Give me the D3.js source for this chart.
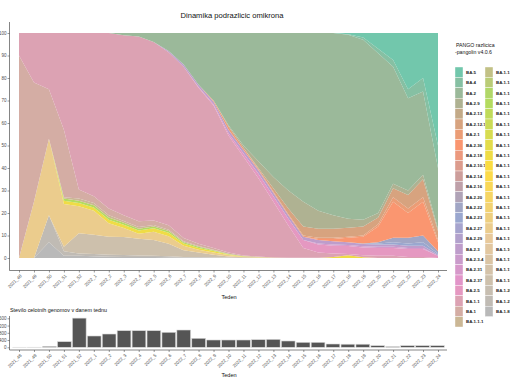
<!DOCTYPE html>
<html>
<head>
<meta charset="utf-8">
<script src="https://cdn.jsdelivr.net/npm/d3@7"></script>
<style>
  body { margin: 0; background: #fff; }
  text { font-family: "Liberation Sans", Arial, sans-serif; }
</style>
</head>
<body>
<svg id="chart" width="510" height="382"></svg>
<script>
(function () {

    // ---- data ----
    var weeks = ["2021_48", "2021_49", "2021_50", "2021_51", "2021_52",
                 "2022_1", "2022_2", "2022_3", "2022_4", "2022_5", "2022_6",
                 "2022_7", "2022_8", "2022_9", "2022_10", "2022_11", "2022_12",
                 "2022_13", "2022_14", "2022_15", "2022_16", "2022_17", "2022_18",
                 "2022_19", "2022_20", "2022_21", "2022_22", "2022_23", "2022_24"];

    var legendLeft = ["BA.5", "BA.4", "BA.2", "BA.2.9", "BA.2.13", "BA.2.12.1", "BA.2.1",
                      "BA.2.36", "BA.2.18", "BA.2.10.1", "BA.2.14", "BA.2.16", "BA.2.20",
                      "BA.2.22", "BA.2.23", "BA.2.27", "BA.2.29", "BA.2.3", "BA.2.3.4",
                      "BA.2.31", "BA.2.37", "BA.2.5", "BA.1.1", "BA.1", "BA.1.1.1"];

    var legendRight = ["BA.1.1.2", "BA.1.1.3", "BA.1.1.4", "BA.1.1.5", "BA.1.1.6", "BA.1.1.7",
                       "BA.1.1.8", "BA.1.1.9", "BA.1.1.10", "BA.1.1.11", "BA.1.1.14", "BA.1.1.16",
                       "BA.1.1.18", "BA.1.13", "BA.1.14", "BA.1.15", "BA.1.15.1", "BA.1.16",
                       "BA.1.17", "BA.1.17.2", "BA.1.18", "BA.1.20", "BA.1.21", "BA.1.8"];

    // whole genomes sequenced per week
    var genomes = [2, 3, 50, 310, 1610, 624, 733, 916, 916, 916, 828, 954, 497, 403, 403,
                   403, 420, 440, 348, 275, 275, 182, 170, 170, 90, 35, 90, 90, 90];

    // share of each lineage per week (%)
    var ba5 = [0, 0, 0, 0, 0,  0, 0, 0, 0, 0,  0, 0, 0, 0, 0,  0, 0, 0, 0, 0,  0, 0, 0.5, 2, 7,  12, 25, 20, 50];
    var ba4 = [0, 0, 0, 0, 0,  0, 0, 0, 0, 0,  0, 0, 0, 0, 0,  0, 0, 0, 0, 0,  0, 0, 0.3, 1, 2,  3, 4, 6, 10];
    var ba2 = [0, 0, 0, 0, 0,  0, 0, 1, 1.6, 4,  8, 14, 23, 30, 41,  50, 57, 64, 70, 75,  79, 81, 81.7, 80, 71,  52, 41, 37, 27];
    var ba2_9 = [0, 0, 0, 0, 0,  0, 0, 0, 0, 0,  0, 0, 0, 0, 0.5,  1, 3, 5, 8, 11,  8, 6, 4, 3, 2,  2, 2, 2, 1];
    var ba2_12_1 = [0, 0, 0, 0, 0,  0, 0, 0, 0, 0,  0, 0, 0, 0, 0,  0, 0.5, 1.5, 2.5, 4,  4, 4, 4, 4, 3,  4, 6, 8, 4];
    var ba2_1 = [0, 0, 0, 0, 0,  0, 0, 0, 0, 0,  0, 0, 0, 0.5, 1.5,  1, 0.5, 0.5, 0.5, 0.5,  0.5, 0.5, 0.5, 0.5, 1,  2, 2, 2, 1];
    var ba2_36 = [0, 0, 0, 0, 0,  0, 0, 0, 0, 0,  0, 0, 0, 0, 0,  0, 0, 0, 0, 0,  0.5, 1, 2, 3, 7,  16, 11, 15, 4];
    var ba2_22 = [0, 0, 0, 0, 0,  0, 0, 0, 0, 0,  0, 0, 0, 0, 0,  0, 0, 0, 0, 0,  0, 0, 0, 0, 0.5,  2, 2.5, 3, 1];
    var ba2_23 = [0, 0, 0, 0, 0,  0, 0, 0, 0, 0,  0, 0, 0, 0, 0,  0, 0, 0, 0, 0,  0, 0, 0, 0.3, 0.5,  1, 1, 1.5, 0.5];
    var ba2_3 = [0, 0, 0, 0, 0,  0, 0, 0, 0, 0,  0.5, 1, 1, 1.2, 1.5,  1.5, 1.5, 1.5, 1.5, 1.5,  1.5, 1.5, 1.2, 1, 1,  1, 1, 1, 0.5];
    var ba2_31 = [0, 0, 0, 0, 0,  0, 0, 0, 0, 0,  0, 0, 0, 0, 0,  0, 0, 0, 0, 0,  0.5, 0.5, 0.5, 0.5, 0.5,  0.5, 0.5, 0.5, 0];
    var ba2_5 = [0, 0, 0, 0, 0,  0, 0, 0, 0, 0,  0, 0, 0.3, 0.5, 1,  1.5, 2, 2.5, 3, 3.5,  3.5, 3.5, 3.5, 3.5, 3.5,  3.5, 3.5, 3.5, 1];
    var ba1_1 = [10, 22, 25, 43, 69.5,  72.5, 78, 80, 82.1, 79.3,  76.9, 76.1, 69.4, 63.3, 52.1,  43.9, 34.8, 24.8, 14.4, 4.4,  2.4, 1.5, 0.6, 0.9, 1,  1, 0.5, 0.5, 0];
    var ba1 = [90, 53, 22, 30, 4,  3, 3, 2.5, 2.5, 2,  2, 1.5, 1, 0.8, 0.5,  0.3, 0.2, 0.1, 0.1, 0.1,  0.1, 0, 0, 0, 0,  0, 0, 0, 0];
    var ba1_1_1 = [0, 0, 0, 0.5, 1,  1, 1, 0.8, 0.8, 0.7,  0.6, 0.4, 0.3, 0.2, 0.1,  0, 0, 0, 0, 0,  0, 0, 0, 0, 0,  0, 0, 0, 0];
    var ba1_1_5 = [0, 0, 0, 1, 1,  1, 1, 0.9, 0.8, 0.8,  0.8, 0.6, 0.5, 0.4, 0.2,  0.1, 0.1, 0, 0, 0,  0, 0, 0, 0, 0,  0, 0, 0, 0];
    var ba1_1_10 = [0, 0, 0, 1.5, 1.5,  1.5, 1.5, 1.5, 1.4, 1.5,  1.5, 1, 0.8, 0.6, 0.3,  0.2, 0.1, 0.1, 0, 0,  0, 0.5, 1.2, 0.3, 0,  0, 0, 0, 0];
    var ba1_15 = [0, 25, 34, 19, 12,  10.7, 6.1, 4, 2.2, 3.7,  3.4, 1.9, 1.3, 1, 0.6,  0.2, 0.1, 0, 0, 0,  0, 0, 0, 0, 0,  0, 0, 0, 0];
    var ba1_18 = [0, 0, 0, 2, 9,  8.5, 8, 8, 7.5, 7,  5.5, 3, 2, 1.2, 0.5,  0.3, 0.2, 0, 0, 0,  0, 0, 0, 0, 0,  0, 0, 0, 0];
    var ba1_21 = [0, 0, 12, 2, 1,  1, 0.8, 0.8, 0.6, 0.6,  0.5, 0.3, 0.2, 0.2, 0.1,  0, 0, 0, 0, 0,  0, 0, 0, 0, 0,  0, 0, 0, 0];
    var ba1_8 = [0, 0, 7, 1, 1,  0.8, 0.6, 0.5, 0.5, 0.4,  0.3, 0.2, 0.2, 0.1, 0.1,  0, 0, 0, 0, 0,  0, 0, 0, 0, 0,  0, 0, 0, 0];

    var shares = {
        "BA.5": ba5, "BA.4": ba4, "BA.2": ba2, "BA.2.9": ba2_9, "BA.2.12.1": ba2_12_1,
        "BA.2.1": ba2_1, "BA.2.36": ba2_36, "BA.2.22": ba2_22, "BA.2.23": ba2_23,
        "BA.2.3": ba2_3, "BA.2.31": ba2_31, "BA.2.5": ba2_5, "BA.1.1": ba1_1, "BA.1": ba1,
        "BA.1.1.1": ba1_1_1, "BA.1.1.5": ba1_1_5, "BA.1.1.10": ba1_1_10, "BA.1.15": ba1_15,
        "BA.1.18": ba1_18, "BA.1.21": ba1_21, "BA.1.8": ba1_8
    };

    // ---- setup ----
    var svg = d3.select("#chart"),
        lineages = legendLeft.concat(legendRight),
        zeros = weeks.map(function () { return 0; }),
        axisColor = "#333",
        labelColor = "#4d4d4d";

    var set2 = d3.piecewise(d3.interpolateRgb,
        ["#66c2a5", "#fc8d62", "#8da0cb", "#e78ac3", "#a6d854", "#ffd92f", "#e5c494", "#b3b3b3"]);
    var color = d3.scaleOrdinal()
        .domain(lineages)
        .range(lineages.map(function (d, i) {
            return d3.interpolateRgb(set2(i / (lineages.length - 1)), "#fff")(0.08);
        }));

    var rows = weeks.map(function (w, i) {
        var r = { week: w };
        lineages.forEach(function (k) { r[k] = (shares[k] || zeros)[i]; });
        return r;
    });

    var series = d3.stack()
        .keys(lineages.slice().reverse())
        .offset(d3.stackOffsetExpand)(rows);

    var x = d3.scalePoint().domain(weeks).range([19, 438]),
        y = d3.scaleLinear().domain([0, 1]).range([258, 33]),
        yPct = d3.scaleLinear().domain([0, 100]).range([258, 33]);

    // ---- title ----
    svg.append("text")
        .attr("x", 232).attr("y", 18)
        .attr("text-anchor", "middle")
        .style("font-size", "7.6px").style("fill", "#111")
        .text("Dinamika podrazlicic omikrona");

    // ---- stacked areas ----
    var area = d3.area()
        .x(function (d) { return x(d.data.week); })
        .y0(function (d) { return y(d[0]); })
        .y1(function (d) { return y(d[1]); });

    svg.append("g")
        .selectAll("path")
        .data(series)
        .join("path")
            .attr("fill", function (d) { return color(d.key); })
            .attr("d", area);

    // ---- main axes ----
    var yAxis = svg.append("g")
        .attr("transform", "translate(9.5,0)")
        .call(d3.axisLeft(yPct).tickValues(d3.range(0, 101, 10)).tickSize(2).tickPadding(1));
    var xAxis = svg.append("g")
        .attr("transform", "translate(0,270.5)")
        .call(d3.axisBottom(x).tickSize(2).tickPadding(1));

    [yAxis, xAxis].forEach(function (g) {
        g.select(".domain").remove();
        g.selectAll("line").attr("stroke", axisColor).attr("stroke-width", 0.5);
        g.selectAll("text").style("font-size", "4.5px").attr("fill", labelColor);
    });
    xAxis.selectAll("text")
        .attr("text-anchor", "end")
        .attr("x", 0).attr("y", 0).attr("dy", "0.35em")
        .attr("transform", "translate(1.5,4.5) rotate(-45)");

    svg.append("line")
        .attr("x1", 9.5).attr("x2", 9.5).attr("y1", 22).attr("y2", 270.5)
        .attr("stroke", axisColor).attr("stroke-width", 0.6);
    svg.append("line")
        .attr("x1", 9.5).attr("x2", 447).attr("y1", 270.5).attr("y2", 270.5)
        .attr("stroke", axisColor).attr("stroke-width", 0.6);

    svg.append("text")
        .attr("x", 229).attr("y", 299)
        .attr("text-anchor", "middle")
        .style("font-size", "5.6px").style("fill", "#111")
        .text("Teden");

    // ---- legend ----
    var rowH = 10.4;
    svg.append("text")
        .attr("x", 456).attr("y", 47)
        .style("font-size", "5.2px").style("fill", "#111")
        .text("PANGO razlicica");
    svg.append("text")
        .attr("x", 455).attr("y", 54)
        .style("font-size", "5.2px").style("fill", "#111")
        .text("-pangolin v4.0.6");

    [legendLeft, legendRight].forEach(function (col, c) {
        var item = svg.append("g")
            .attr("transform", "translate(" + (455 + c * 30) + ",67)")
            .selectAll("g")
            .data(col)
            .join("g")
                .attr("transform", function (d, i) { return "translate(0," + (i * rowH) + ")"; });
        item.append("rect")
            .attr("width", 8).attr("height", rowH)
            .attr("fill", color)
            .attr("stroke", "#fff").attr("stroke-width", 0.4);
        item.append("text")
            .attr("x", 11).attr("y", rowH / 2).attr("dy", "0.35em")
            .style("font-size", "4.4px").style("font-weight", "bold").style("fill", "#222")
            .text(function (d) { return d; });
    });

    // ---- genomes per week ----
    var xb = d3.scaleBand().domain(weeks).range([19 - 7.48, 438 + 7.48]).padding(0.08),
        yb = d3.scaleLinear().domain([0, 1600]).range([347.3, 318.3]);

    svg.append("text")
        .attr("x", 10).attr("y", 312)
        .style("font-size", "5.4px").style("fill", "#111")
        .text("Stevilo celotnih genomov v danem tednu");

    svg.append("g")
        .selectAll("rect")
        .data(genomes)
        .join("rect")
            .attr("x", function (d, i) { return xb(weeks[i]); })
            .attr("width", xb.bandwidth())
            .attr("y", function (d) { return yb(d); })
            .attr("height", function (d) { return yb(0) - yb(d); })
            .attr("fill", "#555")
            .attr("stroke", "#d9d9d9").attr("stroke-width", 0.6);

    var ybAxis = svg.append("g")
        .attr("transform", "translate(9.5,0)")
        .call(d3.axisLeft(yb).tickValues([0, 400, 800, 1200, 1600]).tickSize(2).tickPadding(1));
    var xbAxis = svg.append("g")
        .attr("transform", "translate(0,350)")
        .call(d3.axisBottom(x).tickSize(2).tickPadding(1));

    [ybAxis, xbAxis].forEach(function (g) {
        g.select(".domain").remove();
        g.selectAll("line").attr("stroke", axisColor).attr("stroke-width", 0.5);
        g.selectAll("text").style("font-size", "4.5px").attr("fill", labelColor);
    });
    xbAxis.selectAll("text")
        .attr("text-anchor", "end")
        .attr("x", 0).attr("y", 0).attr("dy", "0.35em")
        .attr("transform", "translate(1.5,4.5) rotate(-45)");

    svg.append("line")
        .attr("x1", 9.5).attr("x2", 9.5).attr("y1", 316).attr("y2", 350)
        .attr("stroke", axisColor).attr("stroke-width", 0.6);
    svg.append("line")
        .attr("x1", 9.5).attr("x2", 447).attr("y1", 350).attr("y2", 350)
        .attr("stroke", axisColor).attr("stroke-width", 0.6);

    svg.append("text")
        .attr("x", 229).attr("y", 377)
        .attr("text-anchor", "middle")
        .style("font-size", "5.6px").style("fill", "#111")
        .text("Teden");

}());
</script>
</body>
</html>
